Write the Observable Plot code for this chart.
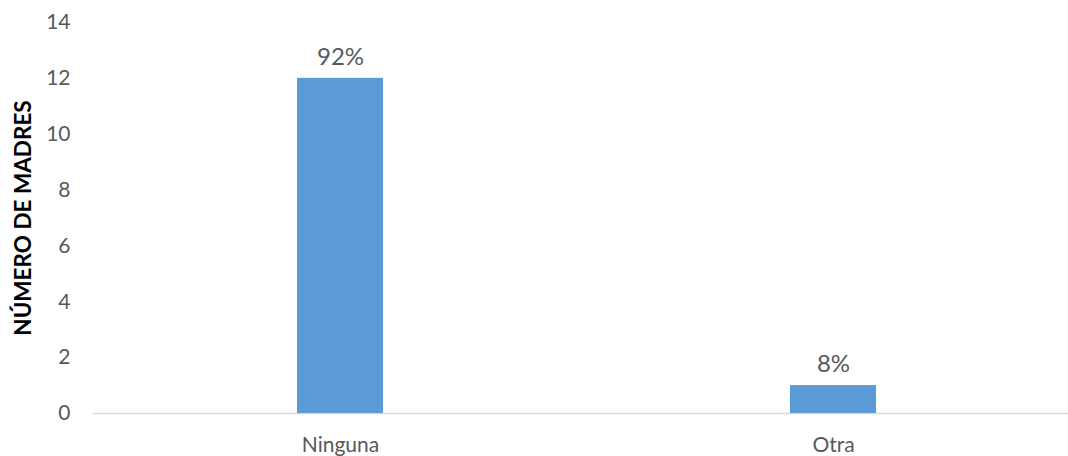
<!DOCTYPE html>
<html>
<head>
<meta charset="utf-8">
<script src="https://cdn.jsdelivr.net/npm/d3@7"></script>
<script src="https://cdn.jsdelivr.net/npm/@observablehq/plot@0.6"></script>
<style>
  html, body { margin: 0; padding: 0; background: #fff; overflow: hidden; }
  #chart svg { display: block; }
</style>
</head>
<body>
<div id="chart"></div>
<script>
const categories = ["Ninguna", "Otra"];
const values = [12, 1];
const percentLabels = ["92%", "8%"];
const yTicks = [0, 2, 4, 6, 8, 10, 12, 14];
const yTitle = "NÚMERO DE MADRES";

const data = categories.map((c, i) => ({cat: c, value: values[i], label: percentLabels[i]}));

const chart = Plot.plot({
  width: 1068,
  height: 456,
  marginLeft: 93,
  marginRight: 0,
  marginTop: 22,
  marginBottom: 43,
  style: {fontFamily: "Lato, sans-serif", fontSize: "21px", color: "#595959", background: "#fff"},
  x: {domain: categories, range: [93.5, 1079.5], paddingInner: 0.8256, paddingOuter: 0.4128, label: null},
  y: {domain: [0, 14], label: null},
  marks: [
    Plot.axisY({ticks: yTicks, tickSize: 0, tickPadding: 23, label: null, fill: "#595959", fontSize: 21}),
    Plot.axisX({tickSize: 0, tickPadding: 24, label: null, fill: "#595959", fontSize: 21}),
    Plot.ruleY([0], {stroke: "#d9d9d9", strokeWidth: 1.5}),
    Plot.barY(data, {x: "cat", y: "value", fill: "#5b9bd5"}),
    Plot.text(data, {x: "cat", y: "value", text: "label", dy: -21, fill: "#595959", fontSize: 24}),
    Plot.text([yTitle], {frameAnchor: "left", textAnchor: "middle", rotate: -90, dx: -70, fill: "#000", fontWeight: "bold", fontSize: 22.5})
  ]
});
document.getElementById("chart").appendChild(chart);
</script>
</body>
</html>
